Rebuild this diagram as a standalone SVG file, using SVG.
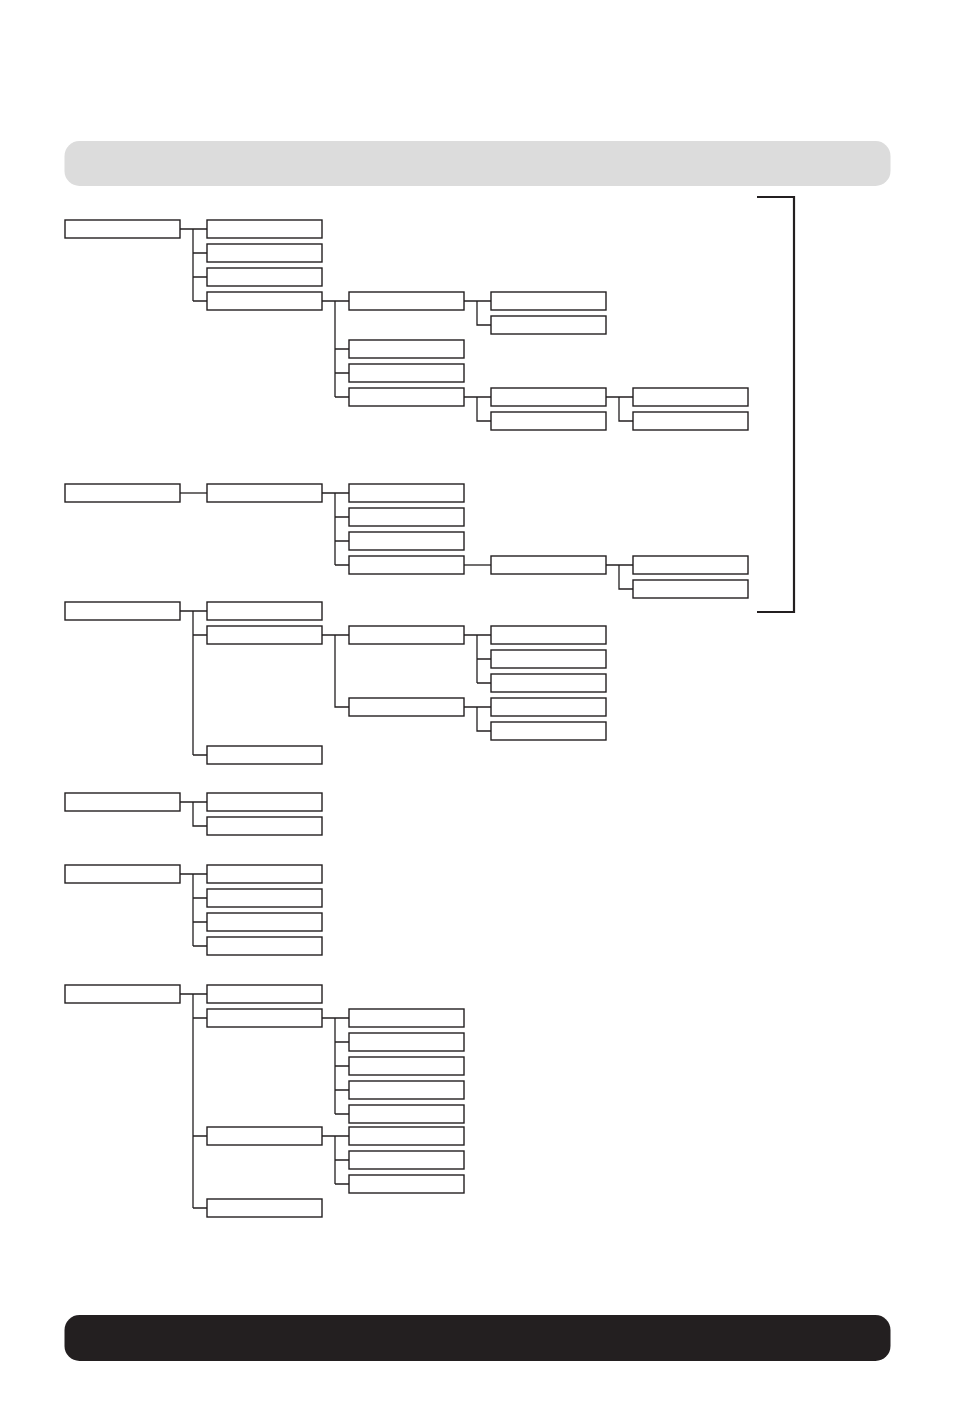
<svg xmlns="http://www.w3.org/2000/svg" width="954" height="1418" viewBox="0 0 954 1418">
<style>
.b{fill:#fff;stroke:#231f20;stroke-width:1.4}
.c{fill:none;stroke:#231f20;stroke-width:1.3}
</style>
<defs><rect id="box" width="115" height="18" class="b"/></defs>
<rect x="0" y="0" width="954" height="1418" fill="#fff"/>
<rect id="banner-top" x="64.5" y="141" width="826" height="45" rx="15" fill="#dcdcdc"/>
<rect id="banner-bottom" x="64.5" y="1315" width="826" height="46" rx="15" fill="#231f20"/>
<path id="bracket" d="M757 197 H794 V612 H757" fill="none" stroke="#231f20" stroke-width="2.2"/>
<g id="connectors" class="c">
<path d="M180 229 H207 M193 229 V301 M193 253 H207 M193 277 H207 M193 301 H207"/>
<path d="M322 301 H349 M335 301 V397 M335 349 H349 M335 373 H349 M335 397 H349"/>
<path d="M464 301 H491 M477 301 V325 H491"/>
<path d="M464 397 H491 M477 397 V421 H491"/>
<path d="M606 397 H633 M619 397 V421 H633"/>
<path d="M180 493 H207"/>
<path d="M322 493 H349 M335 493 V565 M335 517 H349 M335 541 H349 M335 565 H349"/>
<path d="M464 565 H491"/>
<path d="M606 565 H633 M619 565 V589 H633"/>
<path d="M180 611 H207 M193 611 V755 M193 635 H207 M193 755 H207"/>
<path d="M322 635 H349 M335 635 V707 H349"/>
<path d="M464 635 H491 M477 635 V683 M477 659 H491 M477 683 H491"/>
<path d="M464 707 H491 M477 707 V731 H491"/>
<path d="M180 802 H207 M193 802 V826 H207"/>
<path d="M180 874 H207 M193 874 V946 M193 898 H207 M193 922 H207 M193 946 H207"/>
<path d="M180 994 H207 M193 994 V1208 M193 1018 H207 M193 1136 H207 M193 1208 H207"/>
<path d="M322 1018 H349 M335 1018 V1114 M335 1042 H349 M335 1066 H349 M335 1090 H349 M335 1114 H349"/>
<path d="M322 1136 H349 M335 1136 V1184 M335 1160 H349 M335 1184 H349"/>
</g>
<g id="n1"><use href="#box" x="65" y="220"/></g>
<g id="n1a"><use href="#box" x="207" y="220"/></g>
<g id="n1b"><use href="#box" x="207" y="244"/></g>
<g id="n1c"><use href="#box" x="207" y="268"/></g>
<g id="n1d"><use href="#box" x="207" y="292"/></g>
<g id="n1d1"><use href="#box" x="349" y="292"/></g>
<g id="n1d2"><use href="#box" x="349" y="340"/></g>
<g id="n1d3"><use href="#box" x="349" y="364"/></g>
<g id="n1d4"><use href="#box" x="349" y="388"/></g>
<g id="n1d1a"><use href="#box" x="491" y="292"/></g>
<g id="n1d1b"><use href="#box" x="491" y="316"/></g>
<g id="n1d4a"><use href="#box" x="491" y="388"/></g>
<g id="n1d4b"><use href="#box" x="491" y="412"/></g>
<g id="n1d4a1"><use href="#box" x="633" y="388"/></g>
<g id="n1d4a2"><use href="#box" x="633" y="412"/></g>
<g id="n2"><use href="#box" x="65" y="484"/></g>
<g id="n2a"><use href="#box" x="207" y="484"/></g>
<g id="n2a1"><use href="#box" x="349" y="484"/></g>
<g id="n2a2"><use href="#box" x="349" y="508"/></g>
<g id="n2a3"><use href="#box" x="349" y="532"/></g>
<g id="n2a4"><use href="#box" x="349" y="556"/></g>
<g id="n2a4a"><use href="#box" x="491" y="556"/></g>
<g id="n2a4a1"><use href="#box" x="633" y="556"/></g>
<g id="n2a4a2"><use href="#box" x="633" y="580"/></g>
<g id="n3"><use href="#box" x="65" y="602"/></g>
<g id="n3a"><use href="#box" x="207" y="602"/></g>
<g id="n3b"><use href="#box" x="207" y="626"/></g>
<g id="n3c"><use href="#box" x="207" y="746"/></g>
<g id="n3b1"><use href="#box" x="349" y="626"/></g>
<g id="n3b2"><use href="#box" x="349" y="698"/></g>
<g id="n3b1a"><use href="#box" x="491" y="626"/></g>
<g id="n3b1b"><use href="#box" x="491" y="650"/></g>
<g id="n3b1c"><use href="#box" x="491" y="674"/></g>
<g id="n3b2a"><use href="#box" x="491" y="698"/></g>
<g id="n3b2b"><use href="#box" x="491" y="722"/></g>
<g id="n4"><use href="#box" x="65" y="793"/></g>
<g id="n4a"><use href="#box" x="207" y="793"/></g>
<g id="n4b"><use href="#box" x="207" y="817"/></g>
<g id="n5"><use href="#box" x="65" y="865"/></g>
<g id="n5a"><use href="#box" x="207" y="865"/></g>
<g id="n5b"><use href="#box" x="207" y="889"/></g>
<g id="n5c"><use href="#box" x="207" y="913"/></g>
<g id="n5d"><use href="#box" x="207" y="937"/></g>
<g id="n6"><use href="#box" x="65" y="985"/></g>
<g id="n6a"><use href="#box" x="207" y="985"/></g>
<g id="n6b"><use href="#box" x="207" y="1009"/></g>
<g id="n6c"><use href="#box" x="207" y="1127"/></g>
<g id="n6d"><use href="#box" x="207" y="1199"/></g>
<g id="n6b1"><use href="#box" x="349" y="1009"/></g>
<g id="n6b2"><use href="#box" x="349" y="1033"/></g>
<g id="n6b3"><use href="#box" x="349" y="1057"/></g>
<g id="n6b4"><use href="#box" x="349" y="1081"/></g>
<g id="n6b5"><use href="#box" x="349" y="1105"/></g>
<g id="n6c1"><use href="#box" x="349" y="1127"/></g>
<g id="n6c2"><use href="#box" x="349" y="1151"/></g>
<g id="n6c3"><use href="#box" x="349" y="1175"/></g>
</svg>
